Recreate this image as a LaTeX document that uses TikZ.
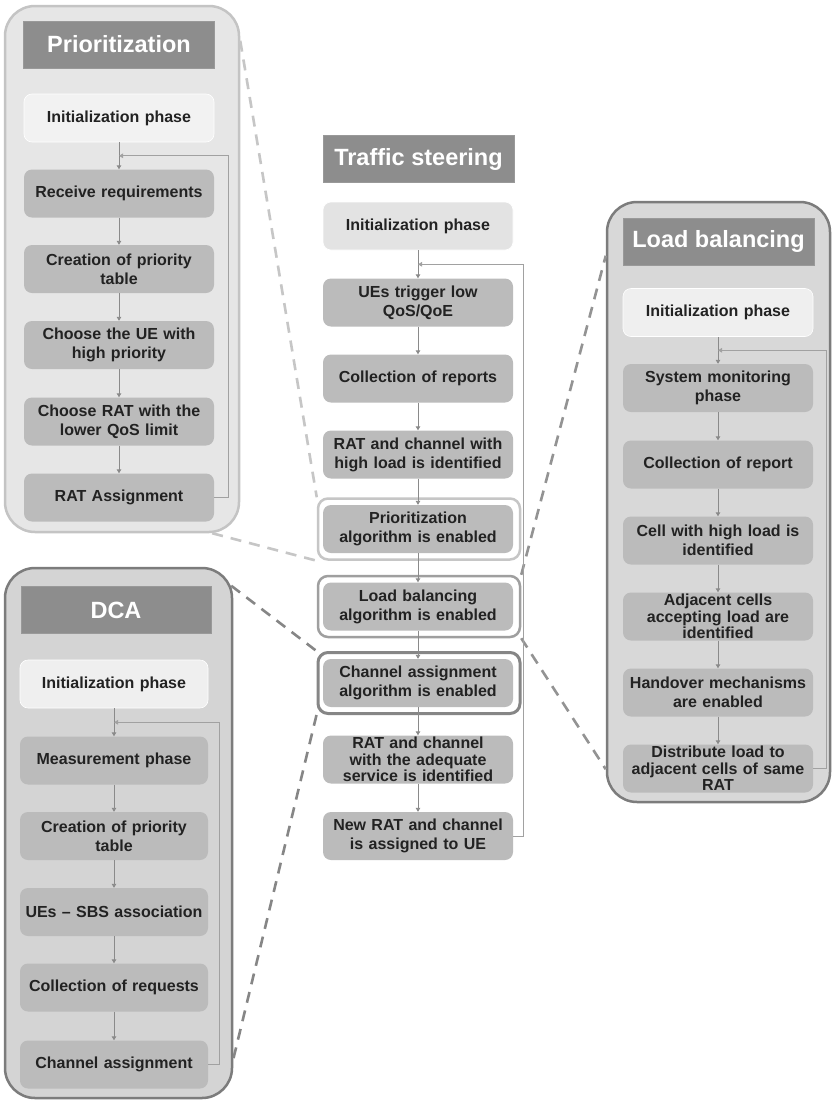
\documentclass[tikz,border=0pt]{standalone}
\usepackage{fontspec}
\setmainfont{Liberation Sans}
\usetikzlibrary{calc,arrows.meta}
\definecolor{ink}{HTML}{222222}
\definecolor{stepgray}{HTML}{BBBBBB}
\definecolor{initgray}{HTML}{EFEFEF}
\definecolor{titlegray}{HTML}{8D8D8D}
\definecolor{arrowgray}{HTML}{8A8A8A}
\definecolor{lightpanel}{HTML}{E6E6E6}
\definecolor{lightedge}{HTML}{C4C4C4}
\definecolor{darkpanel}{HTML}{D8D8D8}
\definecolor{darkedge}{HTML}{7C7C7C}
\begin{document}
\begin{tikzpicture}[x=1pt,y=-1pt,
  panel/.style={rectangle,rounded corners=30pt,inner sep=0pt,line width=2.5pt},
  stepbox/.style={rectangle,rounded corners=8pt,fill=stepgray,text=ink,
    font=\fontsize{16}{19}\selectfont\bfseries,align=center,
    text width=186pt,inner xsep=2pt,inner ysep=0pt,minimum height=48pt},
  threeline/.style={font=\fontsize{16}{16.5}\selectfont\bfseries},
  initbox/.style={stepbox,fill=initgray,draw=white,line width=0.6pt},
  titlebar/.style={rectangle,fill=titlegray,draw=gray!80,line width=0.5pt,text=white,
    font=\fontsize{23.5}{28}\selectfont\bfseries,minimum width=191pt,
    minimum height=47pt,inner sep=0pt},
  hlbox/.style={rectangle,rounded corners=10pt,fill=white,minimum width=202pt,
    minimum height=61pt,inner sep=0pt,line width=2.5pt},
  arr/.style={draw=arrowgray,line width=0.9pt,-{Triangle[length=4pt,width=4.5pt]}},
  loop/.style={draw=arrowgray!80,line width=0.9pt,-{Triangle[length=4pt,width=4.5pt]}},
  link/.style={line width=2.6pt,dash pattern=on 11pt off 8pt}
]
\useasboundingbox (0,0) rectangle (832,1101);
\fill[white] (0,0) rectangle (832,1101);

% ---------- panels ----------
\node[panel,fill=lightpanel,draw=lightedge,minimum width=234pt,minimum height=526pt] (panP) at (122,269) {};
\node[panel,fill=darkpanel,draw=darkedge,minimum width=223pt,minimum height=600pt] (panL) at (718.5,502) {};
\node[panel,fill=darkpanel!98!black,draw=darkedge,minimum width=227pt,minimum height=530pt] (panD) at (118.5,833) {};

% ---------- highlighted steps of the central flow ----------
\node[hlbox,draw=gray!45] (hlP) at (419,529) {};
\node[hlbox,draw=gray!75] (hlL) at (419,606.5) {};
\node[hlbox,draw=gray!95,line width=3pt] (hlC) at (419,683) {};

% ---------- dashed links from the highlighted steps to their panels ----------
\draw[link,draw=gray!45] ($(panP.north east)+(0,36)$) -- (hlP.north west);
\draw[link,draw=gray!45] ($(panP.south east)+(-28,0)$) -- (hlP.south west);
\draw[link,draw=gray!85] (hlL.north east) -- ($(panL.north west)+(0,55)$);
\draw[link,draw=gray!85] (hlL.south east) -- ($(panL.south west)+(0,-34)$);
\draw[link,draw=gray!95] ($(panD.north east)+(-2,19)$) -- (hlC.north west);
\draw[link,draw=gray!95] (hlC.south west) -- ($(panD.south east)+(0,-40)$);

% ---------- Prioritization ----------
\node[titlebar] (pt) at (119,44.5) {Prioritization};
\node[initbox,fill=white!95!black] (p0) at (119,118) {Initialization phase};
\node[stepbox] (p1) at (119,193.5) {Receive requirements};
\node[stepbox] (p2) at (119,269) {Creation of priority\\table};
\node[stepbox] (p3) at (119,345) {Choose the UE with\\high priority};
\node[stepbox] (p4) at (119,421.5) {Choose RAT with the\\lower QoS limit};
\node[stepbox] (p5) at (119,497.5) {RAT Assignment};
\coordinate (pj) at ($(p0.south)!0.5!(p1.north)$);
\draw[arr] (p0) -- (p1);
\draw[arr] (p1) -- (p2);
\draw[arr] (p2) -- (p3);
\draw[arr] (p3) -- (p4);
\draw[arr] (p4) -- (p5);
\draw[loop] (p5.east) -| ($(pj)+(109,0)$) -- (pj);

% ---------- Traffic steering ----------
\node[titlebar] (ct) at (418.5,159) {Traffic steering};
\node[initbox,fill=initgray!95!black] (c0) at (418,226) {Initialization phase};
\node[stepbox] (c1) at (418,302.5) {UEs trigger low\\QoS/QoE};
\node[stepbox] (c2) at (418,378.5) {Collection of reports};
\node[stepbox] (c3) at (418,454.5) {RAT and channel with\\high load is identified};
\node[stepbox] (c4) at (418,529) {Prioritization\\algorithm is enabled};
\node[stepbox] (c5) at (418,606.5) {Load balancing\\algorithm is enabled};
\node[stepbox] (c6) at (418,683) {Channel assignment\\algorithm is enabled};
\node[stepbox,threeline] (c7) at (418,759.5) {RAT and channel\\with the adequate\\service is identified};
\node[stepbox] (c8) at (418,836) {New RAT and channel\\is assigned to UE};
\coordinate (cj) at ($(c0.south)!0.5!(c1.north)$);
\draw[arr] (c0) -- (c1);
\draw[arr] (c1) -- (c2);
\draw[arr] (c2) -- (c3);
\draw[arr] (c3) -- (c4);
\draw[arr] (c4) -- (c5);
\draw[arr] (c5) -- (c6);
\draw[arr] (c6) -- (c7);
\draw[arr] (c7) -- (c8);
\draw[loop] (c8.east) -| ($(cj)+(105,0)$) -- (cj);

% ---------- Load balancing ----------
\node[titlebar] (lt) at (718.5,241.5) {Load balancing};
\node[initbox] (l0) at (718,312.5) {Initialization phase};
\node[stepbox] (l1) at (718,388) {System monitoring\\phase};
\node[stepbox] (l2) at (718,464.5) {Collection of report};
\node[stepbox] (l3) at (718,540.5) {Cell with high load is\\identified};
\node[stepbox,threeline] (l4) at (718,616.5) {Adjacent cells\\accepting load are\\identified};
\node[stepbox] (l5) at (718,692.5) {Handover mechanisms\\are enabled};
\node[stepbox,threeline] (l6) at (718,768.5) {Distribute load to\\adjacent cells of same\\RAT};
\coordinate (lj) at ($(l0.south)!0.5!(l1.north)$);
\draw[arr] (l0) -- (l1);
\draw[arr] (l1) -- (l2);
\draw[arr] (l2) -- (l3);
\draw[arr] (l3) -- (l4);
\draw[arr] (l4) -- (l5);
\draw[arr] (l5) -- (l6);
\draw[loop] (l6.east) -| ($(lj)+(108,0)$) -- (lj);

% ---------- DCA ----------
\node[titlebar,minimum width=190pt] (dt) at (116,610) {DCA};
\node[initbox,text width=184pt] (d0) at (114,684) {Initialization phase};
\node[stepbox,text width=184pt] (d1) at (114,760.5) {Measurement phase};
\node[stepbox,text width=184pt] (d2) at (114,836) {Creation of priority\\table};
\node[stepbox,text width=184pt] (d3) at (114,912) {UEs – SBS association};
\node[stepbox,text width=184pt] (d4) at (114,987.5) {Collection of requests};
\node[stepbox,text width=184pt] (d5) at (114,1064.5) {Channel assignment};
\coordinate (dj) at ($(d0.south)!0.5!(d1.north)$);
\draw[arr] (d0) -- (d1);
\draw[arr] (d1) -- (d2);
\draw[arr] (d2) -- (d3);
\draw[arr] (d3) -- (d4);
\draw[arr] (d4) -- (d5);
\draw[loop] (d5.east) -| ($(dj)+(105,0)$) -- (dj);
\end{tikzpicture}
\end{document}
